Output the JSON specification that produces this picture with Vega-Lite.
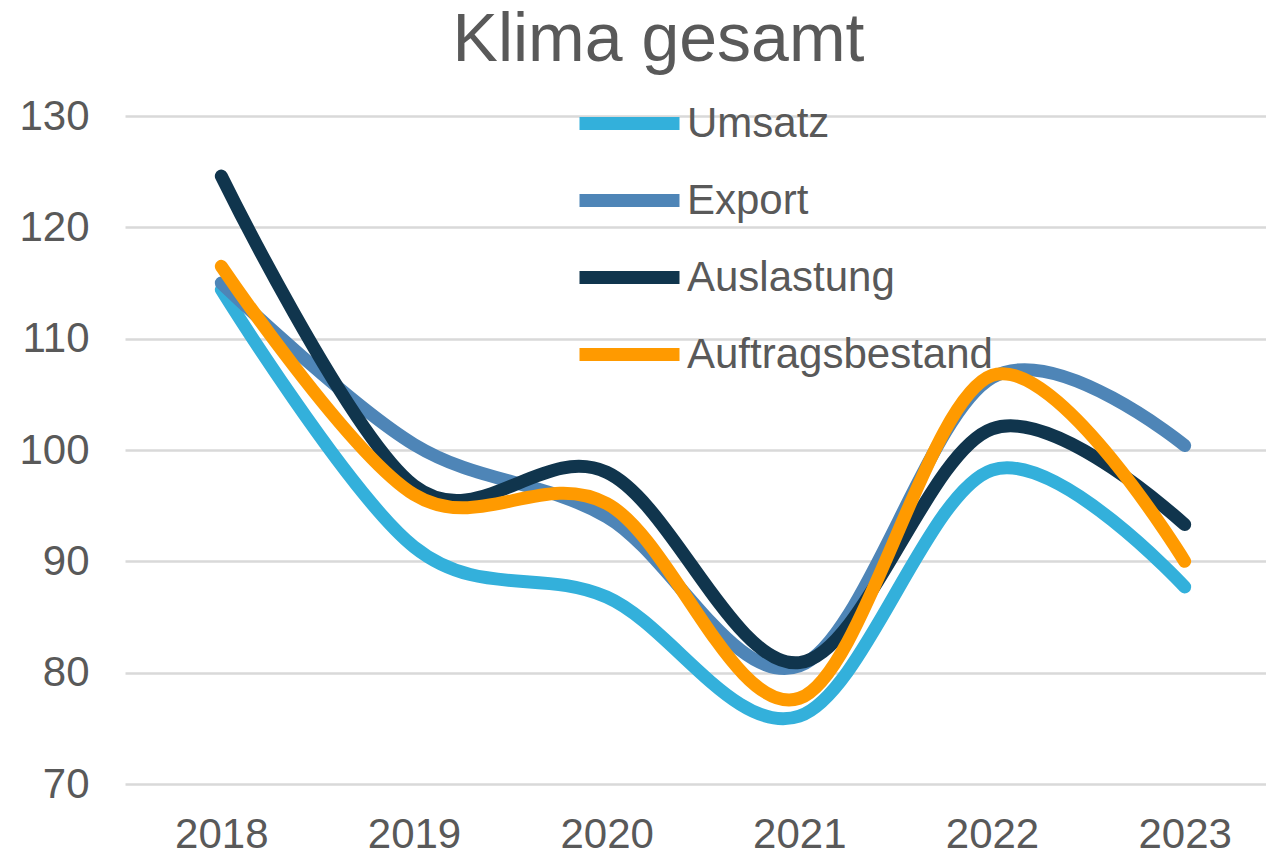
{
  "$schema": "https://vega.github.io/schema/vega-lite/v6.json",
  "autosize": "none",
  "width": 1141,
  "height": 668,
  "padding": {"left": 125, "top": 116, "right": 0, "bottom": 73},
  "background": "white",
  "title": {
    "text": "Klima gesamt",
    "font": "Liberation Sans",
    "fontSize": 68,
    "fontWeight": "normal",
    "color": "#595959",
    "anchor": "middle",
    "frame": "group",
    "baseline": "alphabetic",
    "offset": 0,
    "dy": 37,
    "dx": -37
  },
  "data": {
    "values": [
      {"Jahr": "2018", "Serie": "Umsatz", "Wert": 114.4},
      {"Jahr": "2019", "Serie": "Umsatz", "Wert": 91.3},
      {"Jahr": "2020", "Serie": "Umsatz", "Wert": 86.8},
      {"Jahr": "2021", "Serie": "Umsatz", "Wert": 76.1},
      {"Jahr": "2022", "Serie": "Umsatz", "Wert": 98.2},
      {"Jahr": "2023", "Serie": "Umsatz", "Wert": 87.7},
      {"Jahr": "2018", "Serie": "Export", "Wert": 115.0},
      {"Jahr": "2019", "Serie": "Export", "Wert": 100.5},
      {"Jahr": "2020", "Serie": "Export", "Wert": 94.0},
      {"Jahr": "2021", "Serie": "Export", "Wert": 80.6},
      {"Jahr": "2022", "Serie": "Export", "Wert": 106.5},
      {"Jahr": "2023", "Serie": "Export", "Wert": 100.4},
      {"Jahr": "2018", "Serie": "Auslastung", "Wert": 124.6},
      {"Jahr": "2019", "Serie": "Auslastung", "Wert": 96.8},
      {"Jahr": "2020", "Serie": "Auslastung", "Wert": 98.0},
      {"Jahr": "2021", "Serie": "Auslastung", "Wert": 80.9},
      {"Jahr": "2022", "Serie": "Auslastung", "Wert": 101.9},
      {"Jahr": "2023", "Serie": "Auslastung", "Wert": 93.3},
      {"Jahr": "2018", "Serie": "Auftragsbestand", "Wert": 116.5},
      {"Jahr": "2019", "Serie": "Auftragsbestand", "Wert": 96.0},
      {"Jahr": "2020", "Serie": "Auftragsbestand", "Wert": 95.2},
      {"Jahr": "2021", "Serie": "Auftragsbestand", "Wert": 77.7},
      {"Jahr": "2022", "Serie": "Auftragsbestand", "Wert": 106.7},
      {"Jahr": "2023", "Serie": "Auftragsbestand", "Wert": 90.0}
    ]
  },
  "mark": {"type": "line", "interpolate": "cardinal", "strokeWidth": 13, "strokeCap": "round", "strokeJoin": "round"},
  "encoding": {
    "x": {
      "field": "Jahr",
      "type": "ordinal",
      "scale": {"type": "point", "padding": 0.5, "range": [0, 1156]},
      "axis": {
        "title": null,
        "labelAngle": 0,
        "labelFont": "Liberation Sans",
        "labelFontSize": 42,
        "labelColor": "#595959",
        "labelPadding": 30,
        "ticks": false,
        "domain": false,
        "grid": false
      }
    },
    "y": {
      "field": "Wert",
      "type": "quantitative",
      "scale": {"domain": [70, 130], "nice": false, "zero": false},
      "axis": {
        "title": null,
        "values": [70, 80, 90, 100, 110, 120, 130],
        "labelFont": "Liberation Sans",
        "labelFontSize": 42,
        "labelColor": "#595959",
        "labelPadding": 36,
        "ticks": false,
        "domain": false,
        "grid": true,
        "gridColor": "#D9D9D9",
        "gridWidth": 2.5
      }
    },
    "color": {
      "field": "Serie",
      "type": "nominal",
      "sort": ["Umsatz", "Export", "Auslastung", "Auftragsbestand"],
      "scale": {
        "domain": ["Umsatz", "Export", "Auslastung", "Auftragsbestand"],
        "range": ["#33B0DB", "#4E85B7", "#10354D", "#FF9A00"]
      },
      "legend": {
        "title": null,
        "orient": "none",
        "legendX": 473,
        "legendY": -24,
        "padding": 0,
        "symbolType": "M-2,0H2",
        "symbolSize": 2500,
        "symbolStrokeWidth": 13,
        "labelFont": "Liberation Sans",
        "labelFontSize": 42,
        "labelColor": "#595959",
        "labelOffset": 26,
        "rowPadding": 19,
        "labelLimit": 500
      }
    }
  },
  "config": {"view": {"stroke": null}}
}
